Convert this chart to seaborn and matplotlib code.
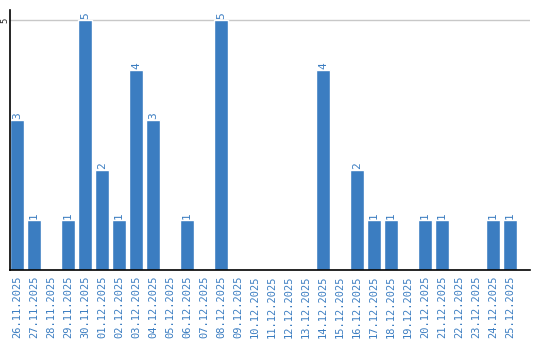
import matplotlib
matplotlib.use("Agg")
import matplotlib.pyplot as plt
import seaborn as sns
import pandas as pd

dates = ["26.11.2025", "27.11.2025", "28.11.2025", "29.11.2025", "30.11.2025",
         "01.12.2025", "02.12.2025", "03.12.2025", "04.12.2025", "05.12.2025",
         "06.12.2025", "07.12.2025", "08.12.2025", "09.12.2025", "10.12.2025",
         "11.12.2025", "12.12.2025", "13.12.2025", "14.12.2025", "15.12.2025",
         "16.12.2025", "17.12.2025", "18.12.2025", "19.12.2025", "20.12.2025",
         "21.12.2025", "22.12.2025", "23.12.2025", "24.12.2025", "25.12.2025"]
values = [3, 1, 0, 1, 5, 2, 1, 4, 3, 0, 1, 0, 5, 0, 0, 0, 0, 0, 4, 0,
          2, 1, 1, 0, 1, 1, 0, 0, 1, 1]

sns.set_style("white")
plt.rcParams['font.family'] = ['DejaVu Sans Mono', 'DejaVu Sans']

BLUE = "#3b7dc1"
df = pd.DataFrame({"date": dates, "value": values})

fig = plt.figure(figsize=(5.4, 3.4), dpi=100)
ax = fig.add_axes([10/540, 70/340, 520/540, 260/340])
sns.barplot(data=df, x="date", y="value", order=dates, color=BLUE,
            saturation=1, width=0.82, ax=ax)

for c in ax.containers:
    labels = [str(v) if v > 0 else "" for v in values]
    ax.bar_label(c, labels=labels, rotation=90, color=BLUE, fontsize=8, padding=1)

ax.set_xlim(-0.41, 30.18)
ax.set_ylim(0, 5.2)
ax.set_yticks([5])
ax.set_yticklabels(["5"], rotation=90, va="center", ha="center", fontsize=6.5)
ax.yaxis.grid(True, color="#c8c8c8", linewidth=1)
ax.set_axisbelow(True)
ax.tick_params(axis="both", length=0)
ax.tick_params(axis="y", pad=4)
ax.tick_params(axis="x", labelrotation=90, labelcolor=BLUE, labelsize=7.5, pad=4)
ax.set_xlabel("")
ax.set_ylabel("")
for s in ["top", "right"]:
    ax.spines[s].set_visible(False)
for s in ["left", "bottom"]:
    ax.spines[s].set_color("black")
    ax.spines[s].set_linewidth(1.2)

fig.savefig("out.png", dpi=100)
